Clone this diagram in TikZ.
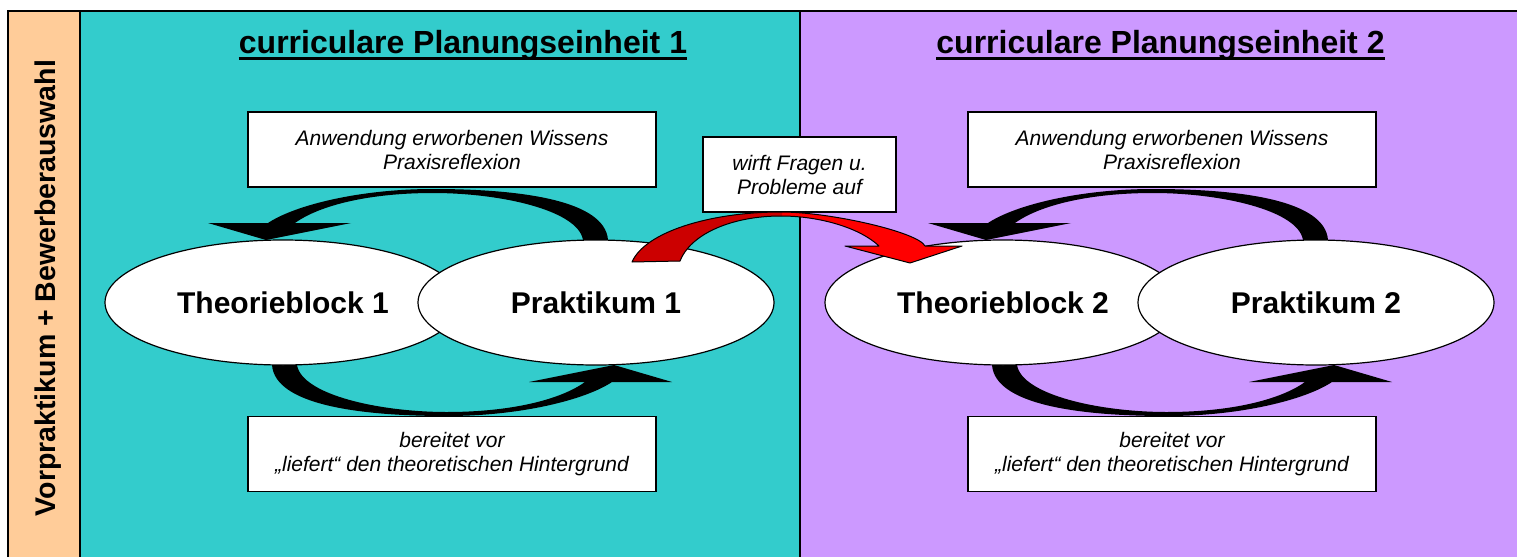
\documentclass[tikz,border=0pt]{standalone}
\usepackage{fontspec}
\setmainfont{Liberation Sans}
\usetikzlibrary{shapes.geometric}
\definecolor{orangebg}{HTML}{FFCC99}
\definecolor{tealbg}{HTML}{33CCCC}
\definecolor{purplebg}{HTML}{CC99FF}
\definecolor{arrowdark}{HTML}{CC0000}
\definecolor{arrowlight}{HTML}{FF0000}
\newcommand\redshape{(632,262) .. controls (645,232) and (710,212) .. (781,212) .. controls (830,212) and (918,232) .. (925,246) -- (962,246) -- (910,263) -- (845,246) -- (879,246) .. controls (860,228) and (820,216) .. (781,216) .. controls (730,216) and (690,235) .. (680,261) -- cycle}
\tikzset{
  titletext/.style={font=\bfseries\fontsize{32}{38}\selectfont, inner sep=0, anchor=base},
  sidetext/.style={font=\bfseries\fontsize{28.5}{34}\selectfont, inner sep=0, anchor=base, rotate=90},
  infobox/.style={draw, fill=white, line width=1.5pt, minimum width=408, minimum height=75, inner sep=0, align=center, font=\itshape\fontsize{21}{24}\selectfont},
  blob/.style={ellipse, draw, fill=white, line width=1.2pt, minimum width=356, minimum height=125, inner sep=0, font=\bfseries\fontsize{30}{36}\selectfont},
  framelines/.style={line width=1.5pt},
  looparrow/.pic={
    \fill[black] (168,-50) -- (168,-62.5) .. controls (165,-102.5) and (80,-113.5) .. (-7,-113.5)
      .. controls (-80,-113.5) and (-145,-97.5) .. (-172,-79.5) -- (-232,-79.5) -- (-174,-62.5)
      -- (-89,-79.5) -- (-145,-79.5) .. controls (-120,-97.5) and (-70,-109.5) .. (-7,-109.5)
      .. controls (60,-109.5) and (138,-92.5) .. (143,-62.5) -- (143,-50) -- cycle;
  }
}
\begin{document}
\begin{tikzpicture}[x=1pt,y=-1pt]
\useasboundingbox (0,0) rectangle (1517,557);
\fill[white] (0,0) rectangle (1517,557);
% panels
\fill[orangebg] (8,11) rectangle (80,557);
\fill[tealbg] (80,11) rectangle (800,557);
\fill[purplebg] (800,11) rectangle (1517,557);
\draw[framelines] (8,557) -- (8,11) -- (1517,11);
\draw[framelines] (80,11) -- (80,557);
\draw[framelines] (800,11) -- (800,557);
% side label
\node[sidetext] (side) at (55,288) {Vorpraktikum + Bewerberauswahl};
% titles
\node[titletext] (t1) at (463,53) {curriculare Planungseinheit 1};
\draw[line width=3.2pt] ([yshift=-5.5pt]t1.base west) -- ([yshift=-5.5pt]t1.base east);
\node[titletext] (t2) at (1160.5,53) {curriculare Planungseinheit 2};
\draw[line width=3.2pt] ([yshift=-5.5pt]t2.base west) -- ([yshift=-5.5pt]t2.base east);
% boxes
\node[infobox] (a1) at (452,149.5) {Anwendung erworbenen Wissens\\Praxisreflexion};
\node[infobox] (b1) at (452,454) {bereitet vor\\„liefert“ den theoretischen Hintergrund};
\node[infobox] (a2) at (1172,149.5) {Anwendung erworbenen Wissens\\Praxisreflexion};
\node[infobox] (b2) at (1172,454) {bereitet vor\\„liefert“ den theoretischen Hintergrund};
\node[infobox, minimum width=193, minimum height=75] (mid) at (799.5,174.5) {wirft Fragen u.\\Probleme auf};
% loop arrows
\pic at (440,302.5) {looparrow};
\pic[rotate=180] at (440,302.5) {looparrow};
\pic at (1160,302.5) {looparrow};
\pic[rotate=180] at (1160,302.5) {looparrow};
% ellipses
\node[blob] (th1) at (283,302.5) {Theorieblock 1};
\node[blob] (pr1) at (596,302.5) {Praktikum 1};
\node[blob] (th2) at (1003,302.5) {Theorieblock 2};
\node[blob] (pr2) at (1316,302.5) {Praktikum 2};
% red arrow
\fill[arrowlight] \redshape;
\begin{scope}
  \clip (600,150) rectangle (782,300);
  \fill[arrowdark] \redshape;
\end{scope}
\draw[line width=1pt, line join=round] \redshape;
\end{tikzpicture}
\end{document}
